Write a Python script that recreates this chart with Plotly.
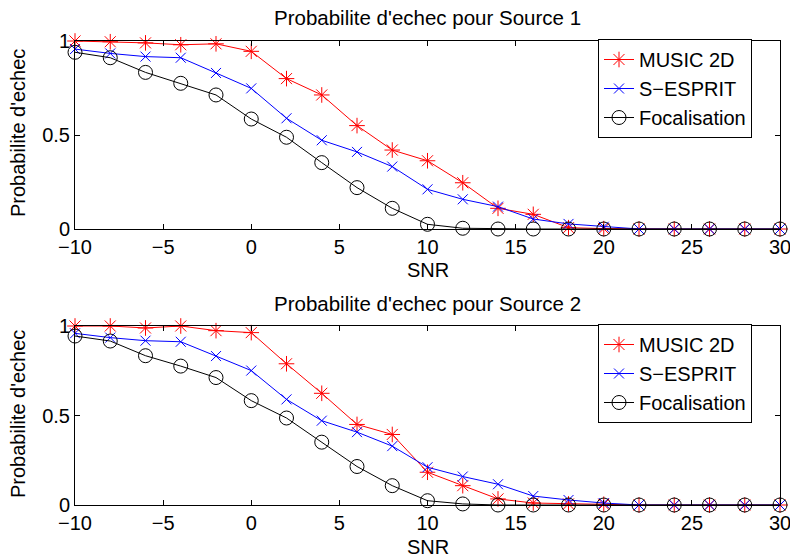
import plotly.graph_objects as go

snr = [-10, -8, -6, -4, -2, 0, 2, 4, 6, 8, 10, 12, 14, 16, 18, 20, 22, 24, 26, 28, 30]

music_s1 = [1.0, 0.996, 0.99, 0.98, 0.985, 0.945, 0.80, 0.713, 0.55, 0.42, 0.363, 0.246, 0.11, 0.078, 0.007, 0.002, 0, 0, 0, 0, 0]
esprit_s1 = [0.957, 0.934, 0.917, 0.911, 0.83, 0.748, 0.589, 0.472, 0.41, 0.332, 0.211, 0.158, 0.119, 0.053, 0.027, 0.012, 0, 0, 0, 0, 0]
focal_s1 = [0.94, 0.911, 0.833, 0.775, 0.713, 0.585, 0.488, 0.353, 0.22, 0.11, 0.025, 0.004, 0, 0, 0, 0, 0, 0, 0, 0, 0]

music_s2 = [1.0, 1.0, 0.989, 1.0, 0.974, 0.963, 0.789, 0.624, 0.45, 0.394, 0.183, 0.108, 0.034, 0.011, 0.006, 0.004, 0, 0, 0, 0, 0]
esprit_s2 = [0.959, 0.935, 0.918, 0.912, 0.832, 0.751, 0.59, 0.471, 0.407, 0.329, 0.211, 0.159, 0.116, 0.05, 0.028, 0.011, 0, 0, 0, 0, 0]
focal_s2 = [0.944, 0.916, 0.834, 0.776, 0.712, 0.583, 0.486, 0.351, 0.215, 0.108, 0.024, 0.006, 0, 0, 0, 0, 0, 0, 0, 0, 0]

names = ["MUSIC 2D", "S−ESPRIT", "Focalisation"]
titles = ["Probabilite d'echec pour Source 1", "Probabilite d'echec pour Source 2"]
x_title = "SNR"
y_title = "Probabilite d'echec"
x_ticks = [-10, -5, 0, 5, 10, 15, 20, 25, 30]
y_ticks = [0, 0.5, 1]
y_ticklabels = ["0", "0.5", "1"]

FONT = "Liberation Sans, Arial, Helvetica, sans-serif"
colors = ["#ff0000", "#0000ff", "#000000"]
symbols = ["asterisk-open", "x-thin-open", "circle-open"]
msizes = [13, 10, 14]

fig = go.Figure()

data = [(music_s1, esprit_s1, focal_s1), (music_s2, esprit_s2, focal_s2)]
for i, series in enumerate(data):
    xa = "x" if i == 0 else "x2"
    ya = "y" if i == 0 else "y2"
    lg = "legend" if i == 0 else "legend2"
    for name, vals, c, s, ms in zip(names, series, colors, symbols, msizes):
        fig.add_trace(go.Scatter(
            x=snr, y=vals, name=name, mode="lines+markers",
            line=dict(color=c, width=1),
            marker=dict(symbol=s, size=ms, color=c, line=dict(color=c, width=1)),
            xaxis=xa, yaxis=ya, legend=lg, cliponaxis=False,
        ))

W, H = 790, 558
xdom = [75 / W, 780 / W]
ydom_top = [(H - 229) / H, (H - 41) / H]
ydom_bot = [(H - 505) / H, (H - 326) / H]

axis_common = dict(
    showline=True, linecolor="black", linewidth=1, mirror="allticks",
    ticks="inside", ticklen=5, tickcolor="black", showgrid=False, zeroline=False,
    tickfont=dict(family=FONT, size=20, color="black"), automargin=False,
    ticklabeloverflow="allow",
)

def ann(text, x, y, size=20, angle=0):
    return dict(text=text, x=x, y=y, xref="paper", yref="paper", showarrow=False,
                textangle=angle, xanchor="center", yanchor="middle",
                font=dict(family=FONT, size=size, color="black"))

xc = (xdom[0] + xdom[1]) / 2
legend_common = dict(xanchor="left", yanchor="top", bordercolor="black", borderwidth=1,
                     bgcolor="white", font=dict(family=FONT, size=20, color="black"),
                     tracegroupgap=0)

fig.update_layout(
    width=W, height=H,
    margin=dict(l=0, r=0, t=0, b=0),
    paper_bgcolor="white", plot_bgcolor="white",
    font=dict(family=FONT, color="black"),
    xaxis=dict(domain=xdom, anchor="y", range=[-10, 30], tickvals=x_ticks, **axis_common),
    yaxis=dict(domain=ydom_top, anchor="x", range=[0, 1], tickvals=y_ticks, ticktext=y_ticklabels, **axis_common),
    xaxis2=dict(domain=xdom, anchor="y2", range=[-10, 30], tickvals=x_ticks, **axis_common),
    yaxis2=dict(domain=ydom_bot, anchor="x2", range=[0, 1], tickvals=y_ticks, ticktext=y_ticklabels, **axis_common),
    legend=dict(x=598 / W, y=(H - 39) / H, **legend_common),
    legend2=dict(x=598 / W, y=(H - 324) / H, **legend_common),
    annotations=[
        ann(titles[0], xc, (H - 17) / H, 20.5),
        ann(titles[1], xc, (H - 303) / H, 20.5),
        ann(x_title, xc, (H - 270) / H),
        ann(x_title, xc, (H - 547) / H),
        ann(y_title, 18 / W, (H - 133) / H, angle=-90),
        ann(y_title, 18 / W, (H - 414) / H, angle=-90),
    ],
)

fig.write_html("out.html", config={"displayModeBar": False},
               post_script="document.body.style.margin='0';document.body.style.overflow='hidden';")
